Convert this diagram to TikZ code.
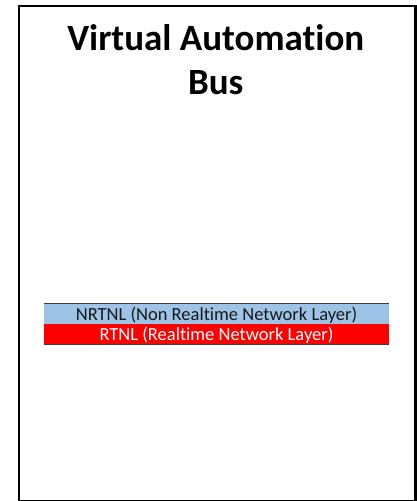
\documentclass[tikz,border=0pt]{standalone}
\usepackage{fontspec}
\setmainfont{Carlito}[Ligatures=NoCommon]
\definecolor{nrtblue}{HTML}{9DC3E6}
\definecolor{bordergray}{HTML}{404040}
\begin{document}
\begin{tikzpicture}[x=1pt,y=-1pt,
  title/.style={font=\fontsize{37}{44.3}\selectfont\bfseries,align=center,inner sep=0pt,anchor=base},
  bartext/.style={font=\fontsize{18.5}{20}\selectfont,inner sep=0pt,anchor=base}]
\useasboundingbox (0,0) rectangle (417,501);
\node[draw=black,line width=2.6pt,minimum width=396.5pt,minimum height=495.5pt,inner sep=0pt,anchor=north west] (frame) at (17.7,4.7) {};
\node[title] (ttl) at (215.75,94.3) {Virtual Automation\\Bus};
\node[fill=nrtblue,minimum width=345pt,minimum height=21pt,inner sep=0pt,anchor=north west] (nrtnl) at (44,303) {};
\node[fill=red,minimum width=345pt,minimum height=20.5pt,inner sep=0pt,anchor=north west] (rtnl) at (44,324) {};
\draw[bordergray,line width=1pt] (nrtnl.north west) -- (nrtnl.north east);
\draw[bordergray,line width=1pt] (rtnl.south west) -- (rtnl.south east);
\node[bartext,text=black!90] (nrtxt) at (216.5,320) {NRTNL (Non Realtime Network Layer)};
\node[bartext,text=white] (rtxt) at (216.5,340) {RTNL (Realtime Network Layer)};
\end{tikzpicture}
\end{document}
